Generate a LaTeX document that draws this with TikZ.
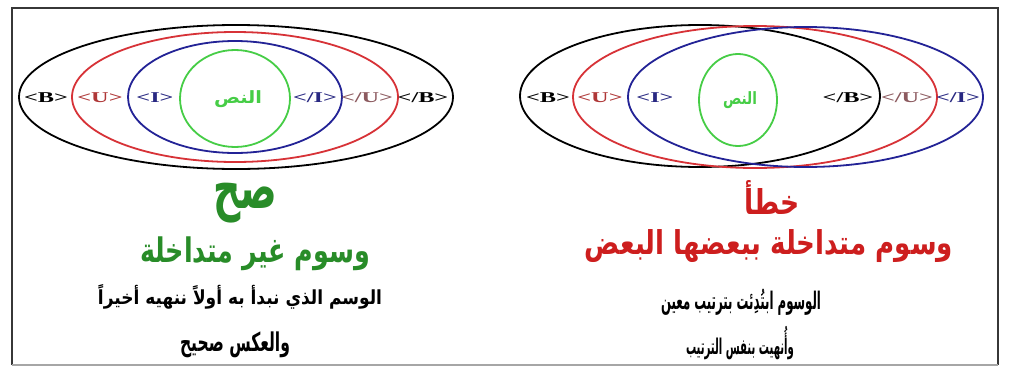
\documentclass[tikz,border=0pt]{standalone}
\usepackage{fontspec}
\usepackage{graphicx}
\TeXXeTstate=1
\newfontfamily\arabicfont[Script=Arabic]{DejaVu Sans}
\newfontfamily\tagfont{Liberation Serif}
\newcommand\arbox[3]{\resizebox*{#1pt}{#2pt}{\arabicfont\bfseries #3}}
\newcommand\tg[1]{\scalebox{1.62}[1]{#1}}
\definecolor{ttgreen}{RGB}{40,140,40}
\definecolor{circgreen}{RGB}{70,205,70}
\definecolor{ttred}{RGB}{205,30,30}
\definecolor{ellred}{RGB}{215,50,55}
\definecolor{ellblue}{RGB}{35,35,150}
\definecolor{tagU}{RGB}{175,55,55}
\definecolor{tagUc}{RGB}{140,90,95}
\definecolor{tagI}{RGB}{40,40,130}
\definecolor{framec}{RGB}{55,55,55}
\tikzset{
  tag/.style={inner sep=0pt, font=\tagfont\bfseries\fontsize{15}{15}\selectfont},
  artext/.style={inner sep=0pt, font=\arabicfont\bfseries\fontsize{16}{18}\selectfont},
  ring/.style={line width=1.8pt}
}
\begin{document}
\begin{tikzpicture}[x=1pt,y=-1pt]
\useasboundingbox (0,0) rectangle (1009,367);
\fill[white] (0,0) rectangle (1009,367);
% frame
\draw[framec, line width=2pt] (12,365) -- (12,8) -- (998,8) -- (998,365);
\draw[gray!70, line width=1.2pt] (12,365) -- (998,365);

% left diagram (correct nesting)
\draw[ring, black] (236,97) ellipse [x radius=217, y radius=72];
\draw[ring, ellred] (235,97) ellipse [x radius=163, y radius=65];
\draw[ring, ellblue] (235,97) ellipse [x radius=107, y radius=56];
\draw[ring, circgreen] (235,98.5) ellipse [x radius=55, y radius=48.5];
\node[tag, black] (lB) at (46,98) {\tg{<B>}};
\node[tag, tagU] (lU) at (100,98) {\tg{<U>}};
\node[tag, tagI] (lI) at (155,98) {\tg{<I>}};
\node[artext, text=circgreen] (lText) at (238,99) {\arbox{48}{17}{\beginR النص\endR}};
\node[tag, tagI] (lIc) at (315,98) {\tg{</I>}};
\node[tag, tagUc] (lUc) at (367,98) {\tg{</U>}};
\node[tag, black] (lBc) at (423,98) {\tg{</B>}};

% right diagram (overlapping)
\draw[ring, black] (700,96) ellipse [x radius=180, y radius=71];
\draw[ring, ellred] (755,97) ellipse [x radius=182, y radius=71];
\draw[ring, ellblue] (805.5,97) ellipse [x radius=177.5, y radius=70];
\draw[ring, circgreen] (738,100) ellipse [x radius=39, y radius=46];
\node[tag, black] (rB) at (548,98) {\tg{<B>}};
\node[tag, tagU] (rU) at (600,98) {\tg{<U>}};
\node[tag, tagI] (rI) at (655,98) {\tg{<I>}};
\node[artext, text=circgreen] (rText) at (740,100) {\arbox{34}{17}{\beginR النص\endR}};
\node[tag, black] (rBc) at (848,98) {\tg{</B>}};
\node[tag, tagUc] (rUc) at (907,98) {\tg{</U>}};
\node[tag, tagI] (rIc) at (958,98) {\tg{</I>}};

% left captions
\node[artext, text=ttgreen] (lTitle) at (245,203) {\arbox{64}{40}{\beginR صح\endR}};
\node[artext, text=ttgreen] (lSub) at (255,254) {\arbox{230}{34}{\beginR وسوم غير متداخلة\endR}};
\node[artext, text=black] (lL1) at (240,297) {\arbox{284}{25}{\beginR الوسم الذي نبدأ به أولاً ننهيه أخيراً\endR}};
\node[artext, text=black] (lL2) at (235,345) {\arbox{110}{26}{\beginR والعكس صحيح\endR}};

% right captions
\node[artext, text=ttred] (rTitle) at (772,197) {\arbox{55}{34}{\beginR خطأ\endR}};
\node[artext, text=ttred] (rSub) at (769,246) {\arbox{368}{33}{\beginR وسوم متداخلة ببعضها البعض\endR}};
\node[artext, text=black] (rL1) at (741,302) {\arbox{160}{26}{\beginR الوسوم ابتُدِئت بترتيب معين\endR}};
\node[artext, text=black] (rL2) at (740,343) {\arbox{108}{34}{\beginR وأُنهيت بنفس الترتيب\endR}};
\end{tikzpicture}
\end{document}
